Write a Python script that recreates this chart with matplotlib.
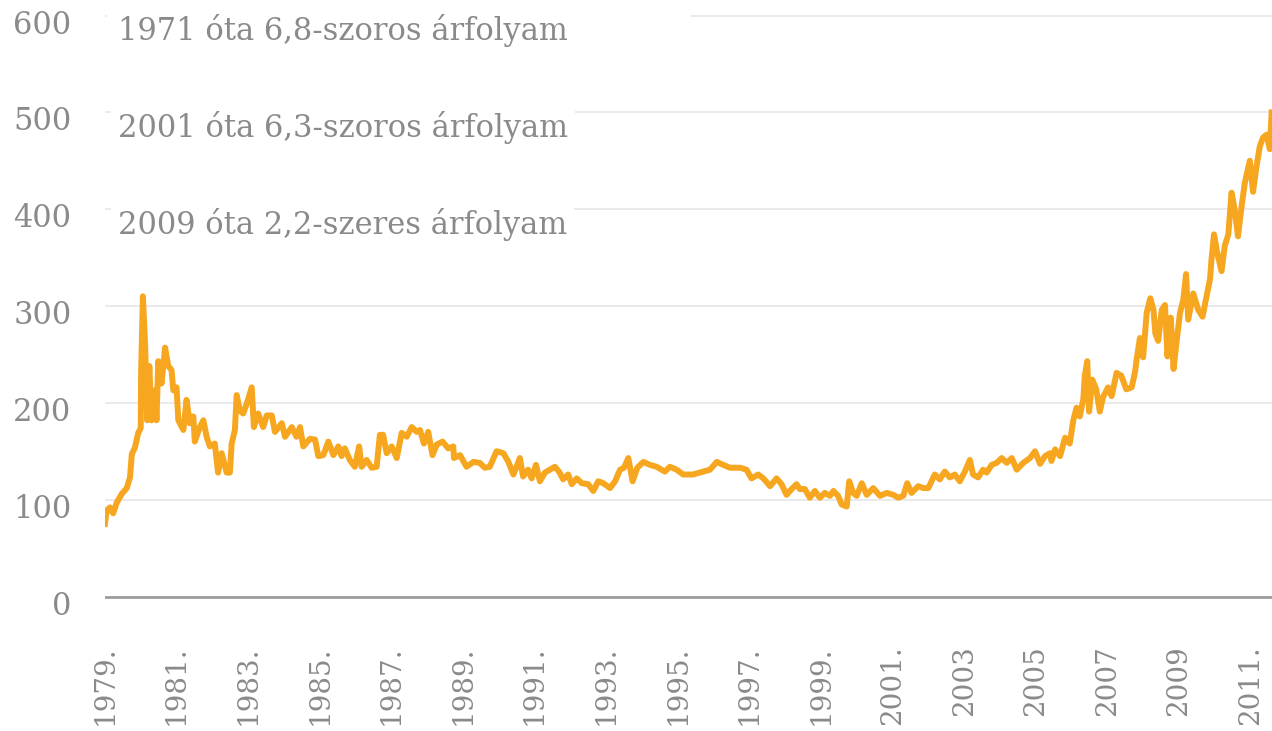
import numpy as np
import matplotlib.pyplot as plt
import matplotlib.transforms as mtransforms
from matplotlib.patches import Rectangle

# price series (decimal year, value)
years = [1979.00, 1979.05, 1979.14, 1979.23, 1979.33, 1979.47, 1979.61, 1979.70, 1979.75, 1979.84,
         1979.93, 1980.00, 1980.01, 1980.06, 1980.12, 1980.18, 1980.24, 1980.30, 1980.40, 1980.44,
         1980.49, 1980.58, 1980.68, 1980.77, 1980.86, 1980.91, 1981.00, 1981.05, 1981.19, 1981.28,
         1981.37, 1981.47, 1981.51, 1981.65, 1981.75, 1981.84, 1981.93, 1982.07, 1982.16, 1982.26,
         1982.40, 1982.49, 1982.54, 1982.63, 1982.68, 1982.77, 1982.86, 1982.96, 1983.10, 1983.16,
         1983.28, 1983.42, 1983.52, 1983.66, 1983.75, 1983.94, 1984.03, 1984.22, 1984.35, 1984.45,
         1984.54, 1984.73, 1984.87, 1984.96, 1985.10, 1985.24, 1985.38, 1985.52, 1985.61, 1985.70,
         1985.84, 1985.98, 1986.10, 1986.17, 1986.31, 1986.45, 1986.59, 1986.68, 1986.77, 1986.87,
         1987.01, 1987.15, 1987.29, 1987.43, 1987.57, 1987.71, 1987.80, 1987.91, 1988.03, 1988.15,
         1988.27, 1988.43, 1988.59, 1988.73, 1988.75, 1988.92, 1989.10, 1989.29, 1989.47, 1989.61,
         1989.75, 1989.94, 1990.13, 1990.27, 1990.41, 1990.59, 1990.68, 1990.82, 1990.92, 1991.04,
         1991.15, 1991.29, 1991.43, 1991.57, 1991.70, 1991.80, 1991.94, 1992.04, 1992.18, 1992.32,
         1992.50, 1992.64, 1992.78, 1992.92, 1993.11, 1993.25, 1993.39, 1993.50, 1993.62, 1993.74,
         1993.87, 1994.04, 1994.22, 1994.41, 1994.64, 1994.78, 1994.97, 1995.15, 1995.43, 1995.71,
         1995.90, 1996.09, 1996.27, 1996.46, 1996.74, 1996.92, 1997.06, 1997.25, 1997.39, 1997.58,
         1997.76, 1997.90, 1998.04, 1998.18, 1998.32, 1998.41, 1998.55, 1998.69, 1998.83, 1998.97,
         1999.11, 1999.25, 1999.35, 1999.48, 1999.58, 1999.72, 1999.79, 1999.90, 2000.00, 2000.14,
         2000.28, 2000.46, 2000.65, 2000.84, 2001.02, 2001.16, 2001.30, 2001.41, 2001.53, 2001.72,
         2001.86, 2002.00, 2002.18, 2002.32, 2002.46, 2002.60, 2002.74, 2002.88, 2003.02, 2003.16,
         2003.25, 2003.39, 2003.53, 2003.63, 2003.77, 2003.91, 2004.05, 2004.19, 2004.33, 2004.47,
         2004.65, 2004.84, 2004.98, 2005.12, 2005.26, 2005.40, 2005.44, 2005.54, 2005.68, 2005.82,
         2005.95, 2006.05, 2006.14, 2006.23, 2006.33, 2006.37, 2006.44, 2006.49, 2006.58, 2006.69,
         2006.79, 2006.88, 2007.02, 2007.12, 2007.26, 2007.39, 2007.53, 2007.68, 2007.77, 2007.82,
         2007.91, 2008.00, 2008.10, 2008.20, 2008.29, 2008.34, 2008.42, 2008.52, 2008.61, 2008.68,
         2008.77, 2008.85, 2008.94, 2009.03, 2009.12, 2009.20, 2009.26, 2009.40, 2009.54, 2009.66,
         2009.75, 2009.87, 2009.91, 2009.98, 2010.07, 2010.19, 2010.28, 2010.38, 2010.47, 2010.56,
         2010.65, 2010.75, 2010.84, 2010.98, 2011.07, 2011.17, 2011.26, 2011.35, 2011.45, 2011.54,
         2011.59]
price = [75, 89, 92, 86, 97, 106, 112, 123, 147, 154,
         169, 174, 231, 310, 262, 182, 238, 182, 213, 182,
         243, 220, 257, 238, 234, 213, 216, 182, 172, 203,
         179, 186, 160, 175, 182, 165, 155, 158, 128, 148,
         128, 128, 158, 172, 208, 192, 189, 199, 216, 175,
         189, 175, 187, 187, 170, 179, 165, 175, 165, 175,
         155, 163, 162, 145, 146, 160, 146, 155, 145, 153,
         141, 134, 155, 134, 141, 133, 134, 167, 167, 148,
         155, 143, 169, 165, 175, 170, 172, 158, 170, 146,
         157, 160, 153, 155, 143, 146, 134, 139, 138, 133,
         134, 150, 148, 139, 126, 143, 124, 131, 122, 136,
         119, 128, 131, 134, 128, 121, 126, 116, 122, 117,
         116, 109, 119, 117, 112, 119, 131, 133, 143, 119,
         133, 139, 136, 134, 129, 134, 131, 126, 126, 129,
         131, 139, 136, 133, 133, 131, 122, 126, 122, 114,
         122, 116, 105, 111, 116, 111, 111, 102, 109, 102,
         107, 104, 109, 104, 95, 93, 119, 107, 104, 117,
         105, 112, 104, 107, 105, 102, 104, 117, 107, 114,
         112, 112, 126, 121, 129, 123, 126, 119, 129, 141,
         126, 123, 131, 128, 136, 138, 143, 138, 143, 131,
         138, 143, 150, 137, 145, 148, 140, 152, 145, 164,
         158, 182, 195, 186, 204, 228, 243, 191, 224, 214,
         191, 206, 216, 207, 231, 228, 214, 216, 231, 245,
         267, 247, 293, 308, 296, 272, 264, 296, 301, 248,
         288, 235, 265, 293, 306, 333, 286, 313, 296, 289,
         306, 328, 348, 374, 355, 336, 362, 374, 417, 399,
         372, 403, 427, 450, 418, 445, 465, 474, 477, 462,
         500]

tick_years = list(range(1979, 2012, 2))
tick_labels = ["1979.", "1981.", "1983.", "1985.", "1987.", "1989.", "1991.", "1993.",
               "1995.", "1997.", "1999.", "2001.", "2003", "2005", "2007", "2009", "2011."]
notes = ["1971 óta 6,8-szoros árfolyam",
         "2001 óta 6,3-szoros árfolyam",
         "2009 óta 2,2-szeres árfolyam"]
note_y = [585, 484, 384]

grey = "#8a8a8a"
plt.rcParams['font.family'] = ['DejaVu Serif']

fig = plt.figure(figsize=(12.72, 7.31), dpi=100)
ax = fig.add_axes([0.0825, 0.1800, 0.9175, 0.8027])

ax.plot(years, price, color="#f7a71f", lw=4.3, solid_joinstyle="round", zorder=3)
ax.axhline(0, color="#999999", lw=1.9, zorder=2)

ax.set_xlim(1979.0, 2011.6)
ax.set_ylim(-3, 603)
ax.set_yticks(range(0, 601, 100))
ax.set_xticks(tick_years)
ax.set_xticklabels(tick_labels, rotation=90, fontsize=20)
ax.grid(axis="y", color="#e6e6e6", lw=1.2)
ax.grid(axis="x", visible=False)
ax.set_axisbelow(True)
for s in ax.spines.values():
    s.set_visible(False)
ax.tick_params(axis="both", length=0, labelcolor=grey)
ax.tick_params(axis="y", pad=24, labelsize=22)
ax.tick_params(axis="x", pad=33)

# push y labels slightly below their gridline like the original
shift = mtransforms.ScaledTranslation(0, -0.06, fig.dpi_scale_trans)
for lab in ax.get_yticklabels():
    lab.set_transform(lab.get_transform() + shift)

# white area hiding the top gridline behind the first note
ax.add_patch(Rectangle((0.002, 585), 0.5, 25, transform=ax.get_yaxis_transform(),
                       facecolor="white", edgecolor="none", zorder=1, clip_on=False))

for txt, yv in zip(notes, note_y):
    ax.text(0.011, yv, txt, transform=ax.get_yaxis_transform(), va="center", ha="left",
            fontsize=22, color=grey, zorder=4,
            bbox=dict(facecolor="white", edgecolor="none", pad=5))

fig.savefig("out.png", dpi=100)
